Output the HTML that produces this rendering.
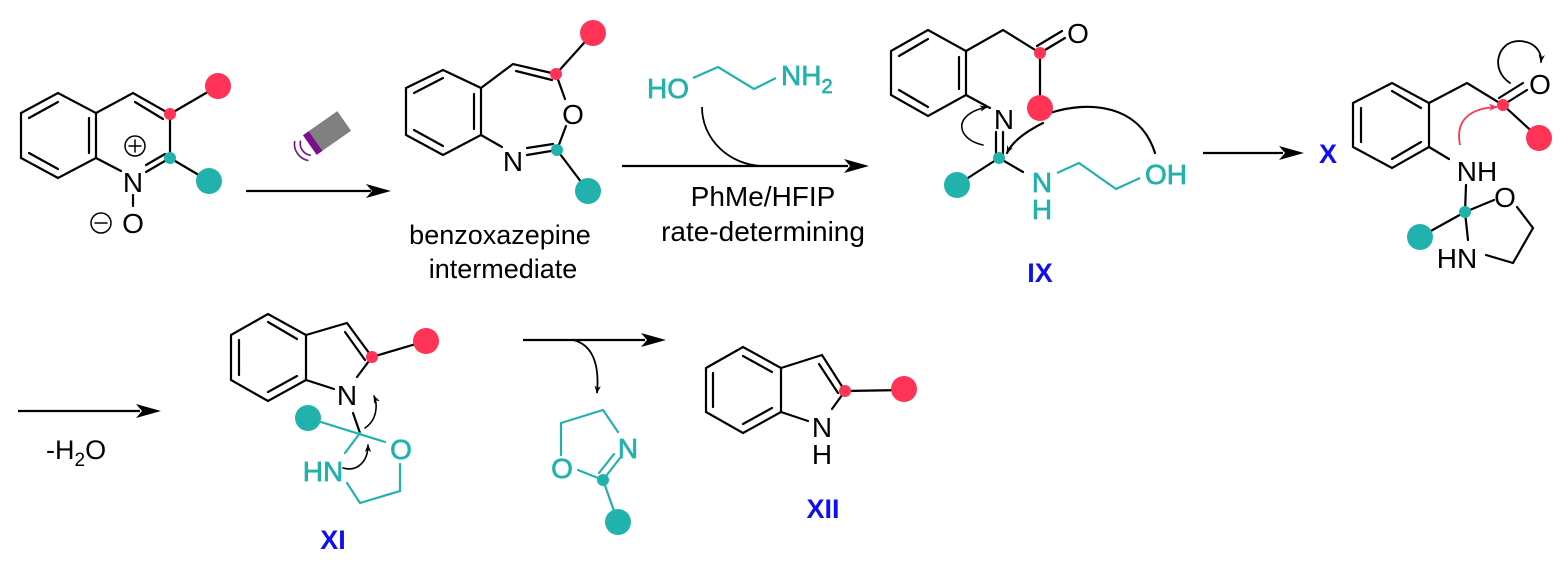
<!DOCTYPE html>
<html><head><meta charset="utf-8"><style>
html,body{margin:0;padding:0;background:#fff;}
svg{display:block;}
text{font-family:"Liberation Sans",sans-serif;}
.t{fill:#22b2ad;stroke:#22b2ad;stroke-width:0.7;}
</style></head><body>
<svg width="1565" height="587" viewBox="0 0 1565 587" xmlns="http://www.w3.org/2000/svg">
<defs>
<marker id="ah" viewBox="0 0 10 10" refX="9" refY="5" markerWidth="8" markerHeight="8" orient="auto" markerUnits="userSpaceOnUse"><path d="M0,1 L10,5 L0,9 L3,5z" fill="#000"/></marker>
<marker id="ahr" viewBox="0 0 10 10" refX="9" refY="5" markerWidth="9" markerHeight="9" orient="auto" markerUnits="userSpaceOnUse"><path d="M0,1 L10,5 L0,9 L3,5z" fill="#ff3355"/></marker>
</defs>
<g fill="none" stroke="#000" stroke-width="2.2" stroke-linecap="round">
<polygon points="21,113 58,93 96,113 96,158 58,178 21,158"/>
<line x1="29" y1="118" x2="58" y2="102"/><line x1="29" y1="153" x2="58" y2="169"/><line x1="89" y1="118" x2="89" y2="153"/>
<polyline points="96,113 133,93 170,114 170,158"/>
<line x1="135" y1="102" x2="163" y2="119"/>
<line x1="96" y1="158" x2="121" y2="171"/>
<line x1="146" y1="172" x2="170" y2="158"/><line x1="146" y1="165" x2="165" y2="154"/>
<line x1="170" y1="114" x2="218" y2="86"/><line x1="170" y1="158" x2="209" y2="181"/>
<line x1="133" y1="195" x2="133" y2="206"/>
<circle cx="135" cy="146" r="10" stroke-width="1.5"/><line x1="129" y1="146" x2="141" y2="146" stroke-width="1.5"/><line x1="135" y1="140" x2="135" y2="152" stroke-width="1.5"/>
<circle cx="101" cy="223" r="10" stroke-width="1.5"/><line x1="95" y1="223" x2="107" y2="223" stroke-width="1.5"/>
<line x1="247" y1="191" x2="370" y2="191"/>
</g>
<path d="M366,184 L391,191 L366,198 L372,191z" fill="#000"/>
<g transform="translate(327,133) rotate(-35)">
<rect x="-15" y="-12" width="36" height="24" fill="#808080"/>
<rect x="-21" y="-12" width="7" height="24" fill="#7a0f8a"/>
<path d="M-26,-9 A12,12 0 0 0 -26,9" fill="none" stroke="#7a0f8a" stroke-width="1.6"/>
<path d="M-31,-12 A17,17 0 0 0 -31,12" fill="none" stroke="#7a0f8a" stroke-width="1.6"/>
</g>
<g font-size="28">
<text x="133" y="192" text-anchor="middle">N</text>
<text x="133" y="233" text-anchor="middle">O</text>
</g>
<circle cx="218" cy="86" r="13" fill="#ff3355"/><circle cx="170" cy="114" r="6" fill="#ff3355"/>
<circle cx="209" cy="181" r="13" fill="#22b2ad"/><circle cx="170" cy="158" r="6" fill="#22b2ad"/>

<g fill="none" stroke="#000" stroke-width="2.2" stroke-linecap="round">
<polygon points="406,88 443,70 481,88 481,135 443,155 406,135"/>
<line x1="414" y1="93" x2="443" y2="78"/><line x1="414" y1="130" x2="443" y2="146"/><line x1="474" y1="94" x2="474" y2="129"/>
<polyline points="481,88 513,64 556,74"/>
<line x1="516" y1="71" x2="552" y2="80"/>
<line x1="556" y1="74" x2="565" y2="99"/>
<line x1="566" y1="126" x2="557" y2="150"/>
<line x1="481" y1="135" x2="502" y2="147"/>
<line x1="527" y1="155" x2="557" y2="150"/><line x1="527" y1="148" x2="553" y2="144"/>
<line x1="556" y1="74" x2="593" y2="33"/>
<line x1="557" y1="150" x2="588" y2="191"/>
</g>
<g font-size="28"><text x="573" y="124" text-anchor="middle">O</text><text x="513" y="171" text-anchor="middle">N</text></g>
<circle cx="593" cy="33" r="13" fill="#ff3355"/><circle cx="556" cy="74" r="6" fill="#ff3355"/>
<circle cx="588" cy="191" r="13" fill="#22b2ad"/><circle cx="557" cy="150" r="6" fill="#22b2ad"/>
<g font-size="27" text-anchor="middle"><text x="500" y="244">benzoxazepine</text><text x="503" y="278">intermediate</text></g>

<polyline points="693,78 718,67 754,89 776,78" fill="none" stroke="#22b2ad" stroke-width="2.2"/>
<g font-size="28" class="t"><text x="668" y="98" text-anchor="middle">HO</text><text x="781" y="85">NH<tspan font-size="20" dy="8">2</tspan></text></g>
<path d="M702,107 C702,140 730,165 762,166" fill="none" stroke="#000" stroke-width="1.8"/>
<line x1="622" y1="166" x2="848" y2="166" stroke="#000" stroke-width="2.2"/>
<path d="M844,159 L869,166 L844,173 L850,166z" fill="#000"/>
<g font-size="28" text-anchor="middle"><text x="763" y="206">PhMe/HFIP</text><text x="763" y="241">rate-determining</text></g>

<g fill="none" stroke="#000" stroke-width="2.2" stroke-linecap="round">
<polygon points="891,51 928,30 966,51 966,95 928,116 891,95"/>
<line x1="899" y1="56" x2="928" y2="39"/><line x1="899" y1="90" x2="928" y2="107"/><line x1="959" y1="57" x2="959" y2="89"/>
<polyline points="966,51 1003,30 1040,53"/>
<line x1="1040" y1="53" x2="1065" y2="38"/><line x1="1037" y1="46" x2="1062" y2="31"/>
<line x1="1040" y1="53" x2="1040" y2="108"/>
<line x1="966" y1="95" x2="990" y2="108"/>
<line x1="996" y1="132" x2="996" y2="155"/><line x1="1003" y1="132" x2="1003" y2="155"/>
<line x1="999" y1="158" x2="957" y2="185"/>
<line x1="999" y1="158" x2="1023" y2="172"/>
<path d="M1155,153 C1140,105 1090,100 1050,113"/>
<path d="M1043,123 C1025,132 1012,142 1007,153" marker-end="url(#ah)"/>
<path d="M983,145 C958,140 950,115 987,107" marker-end="url(#ah)" stroke-width="1.6"/>
</g>
<polyline points="1057,173 1079,163 1116,189 1140,178" fill="none" stroke="#22b2ad" stroke-width="2.2"/>
<g font-size="28"><text x="1078" y="43" text-anchor="middle">O</text><text x="1004" y="129" text-anchor="middle">N</text></g>
<g font-size="28" class="t"><text x="1042" y="192" text-anchor="middle">N</text><text x="1042" y="219" text-anchor="middle">H</text><text x="1166" y="184" text-anchor="middle">OH</text></g>
<circle cx="1040" cy="108" r="13" fill="#ff3355"/><circle cx="1040" cy="53" r="6" fill="#ff3355"/>
<circle cx="957" cy="185" r="13" fill="#22b2ad"/><circle cx="999" cy="158" r="6" fill="#22b2ad"/>
<text x="1040" y="282" font-size="27" font-weight="bold" fill="#1010ee" text-anchor="middle">IX</text>

<line x1="1203" y1="153" x2="1283" y2="153" stroke="#000" stroke-width="2.2"/>
<path d="M1279,146 L1304,153 L1279,160 L1285,153z" fill="#000"/>
<text x="1328" y="163" font-size="27" font-weight="bold" fill="#1010ee" text-anchor="middle">X</text>

<g fill="none" stroke="#000" stroke-width="2.2" stroke-linecap="round">
<polygon points="1353,103 1392,83 1429,103 1429,147 1392,168 1353,147"/>
<line x1="1361" y1="108" x2="1361" y2="142"/><line x1="1392" y1="91" x2="1421" y2="108"/><line x1="1392" y1="159" x2="1421" y2="142"/>
<polyline points="1429,103 1467,83 1503,105 1539,138"/>
<line x1="1503" y1="105" x2="1527" y2="90"/><line x1="1499" y1="98" x2="1523" y2="83"/>
<line x1="1429" y1="147" x2="1449" y2="159"/>
<line x1="1466" y1="185" x2="1465" y2="212"/>
<line x1="1465" y1="212" x2="1494" y2="200"/>
<line x1="1465" y1="212" x2="1420" y2="237"/>
<line x1="1465" y1="212" x2="1468" y2="240"/>
<polyline points="1517,207 1533,228 1513,263 1486,255"/>
<path d="M1510,83 C1490,70 1497,42 1518,41 C1535,41 1542,52 1541,62" marker-end="url(#ah)" stroke-width="1.8"/>
</g>
<path d="M1460,145 C1455,120 1470,108 1497,107" fill="none" stroke="#ff3355" stroke-width="1.8" marker-end="url(#ahr)"/>
<g font-size="28"><text x="1540" y="94" text-anchor="middle">O</text><text x="1477" y="181" text-anchor="middle">NH</text><text x="1505" y="207" text-anchor="middle">O</text><text x="1457" y="268" text-anchor="middle">HN</text></g>
<circle cx="1539" cy="138" r="13" fill="#ff3355"/><circle cx="1503" cy="105" r="6" fill="#ff3355"/>
<circle cx="1420" cy="237" r="13" fill="#22b2ad"/><circle cx="1465" cy="212" r="6" fill="#22b2ad"/>

<line x1="18" y1="411" x2="140" y2="411" stroke="#000" stroke-width="2.2"/>
<path d="M136,404 L161,411 L136,418 L142,411z" fill="#000"/>
<text x="46" y="459" font-size="27">-H<tspan font-size="19" dy="7">2</tspan><tspan dy="-7">O</tspan></text>

<g fill="none" stroke="#000" stroke-width="2.2" stroke-linecap="round">
<polygon points="231,335 268,314 306,335 306,380 268,401 231,380"/>
<line x1="239" y1="340" x2="239" y2="375"/><line x1="268" y1="322" x2="297" y2="339"/><line x1="268" y1="392" x2="297" y2="376"/>
<polyline points="306,335 347,323 372,357"/>
<line x1="345" y1="332" x2="365" y2="360"/>
<line x1="372" y1="357" x2="426" y2="341"/>
<line x1="372" y1="357" x2="357" y2="377"/>
<line x1="306" y1="380" x2="334" y2="389"/>
<line x1="353" y1="413" x2="360" y2="433"/>
<path d="M365,428 C377,420 378,405 374,396" marker-end="url(#ah)" stroke-width="1.6"/>
<path d="M343,468 C357,472 368,462 368,445" marker-end="url(#ah)" stroke-width="1.6"/>
</g>
<g fill="none" stroke="#22b2ad" stroke-width="2.2" stroke-linecap="round">
<line x1="308" y1="418" x2="385" y2="442"/>
<line x1="360" y1="433" x2="345" y2="453"/>
<polyline points="347,483 360,503 400,491 400,464"/>
</g>
<g font-size="28"><text x="347" y="405" text-anchor="middle">N</text></g>
<g font-size="28" class="t"><text x="401" y="459" text-anchor="middle">O</text><text x="323" y="481" text-anchor="middle">HN</text></g>
<circle cx="426" cy="341" r="13" fill="#ff3355"/><circle cx="372" cy="357" r="6" fill="#ff3355"/>
<circle cx="308" cy="418" r="13" fill="#22b2ad"/>
<text x="333" y="549" font-size="27" font-weight="bold" fill="#1010ee" text-anchor="middle">XI</text>

<line x1="523" y1="340" x2="645" y2="340" stroke="#000" stroke-width="2.2"/>
<path d="M641,333 L666,340 L641,347 L647,340z" fill="#000"/>
<path d="M573,340 C590,344 600,360 597,393" fill="none" stroke="#000" stroke-width="1.8" marker-end="url(#ah)"/>
<g fill="none" stroke="#22b2ad" stroke-width="2.2" stroke-linecap="round">
<polyline points="561,455 561,423 603,410 618,432"/>
<line x1="620" y1="458" x2="603" y2="480"/><line x1="614" y1="454" x2="599" y2="473"/>
<line x1="603" y1="480" x2="578" y2="470"/>
<line x1="603" y1="480" x2="618" y2="522"/>
</g>
<g font-size="28" class="t"><text x="628" y="458" text-anchor="middle">N</text><text x="562" y="478" text-anchor="middle">O</text></g>
<circle cx="618" cy="522" r="13" fill="#22b2ad"/><circle cx="603" cy="480" r="6" fill="#22b2ad"/>

<g fill="none" stroke="#000" stroke-width="2.2" stroke-linecap="round">
<polygon points="706,368 743,347 781,368 781,412 743,433 706,412"/>
<line x1="713" y1="373" x2="713" y2="407"/><line x1="743" y1="356" x2="772" y2="372"/><line x1="743" y1="424" x2="772" y2="408"/>
<polyline points="781,368 822,355 845,391"/>
<line x1="819" y1="364" x2="838" y2="393"/>
<line x1="845" y1="391" x2="904" y2="390"/>
<line x1="845" y1="391" x2="832" y2="409"/>
<line x1="781" y1="412" x2="808" y2="421"/>
</g>
<g font-size="28"><text x="822" y="437" text-anchor="middle">N</text><text x="822" y="464" text-anchor="middle">H</text></g>
<circle cx="904" cy="389" r="13" fill="#ff3355"/><circle cx="845" cy="391" r="6" fill="#ff3355"/>
<text x="823" y="518" font-size="27" font-weight="bold" fill="#1010ee" text-anchor="middle">XII</text>
</svg>
</body></html>
